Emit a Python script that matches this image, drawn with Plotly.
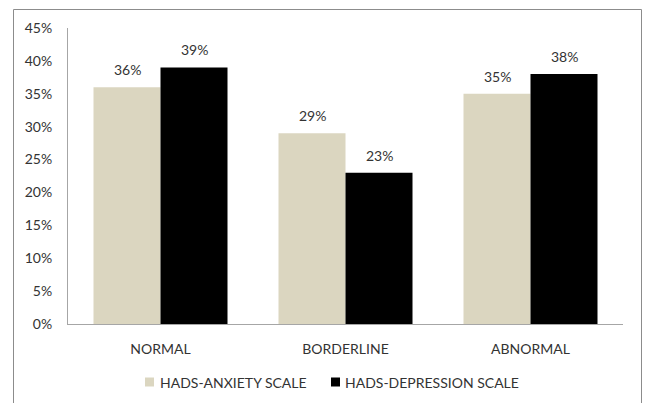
import plotly.graph_objects as go

categories = ["NORMAL", "BORDERLINE", "ABNORMAL"]
anxiety = [36, 29, 35]
depression = [39, 23, 38]
series_names = ["HADS-ANXIETY SCALE", "HADS-DEPRESSION SCALE"]
series_colors = ["#dbd6c0", "#000000"]
y_ticks = [0, 5, 10, 15, 20, 25, 30, 35, 40, 45]

FONT = "Lato"
FONT_SIZE = 14
TEXT_COLOR = "#333333"
AXIS_COLOR = "#a6a6a6"

W, H = 646, 403
L, R, T, B = 68, 23, 28, 79
pw, ph = W - L - R, H - T - B
BAR_PX = 67  # width of one bar in pixels (bars in a group touch)


def px_x(x):
    return (x - L) / pw


def px_y(y):
    return (H - B - y) / ph


fig = go.Figure()
annotations = []
for i, (name, vals, color) in enumerate(zip(series_names, [anxiety, depression], series_colors)):
    fig.add_trace(go.Bar(
        x=categories,
        y=vals,
        name=name,
        marker=dict(color=color, line=dict(width=0)),
        showlegend=False,
    ))
    shift = (-0.5 if i == 0 else 0.5) * BAR_PX
    for cat, v in zip(categories, vals):
        annotations.append(dict(
            x=cat, y=v, xref="x", yref="y",
            text=f"{v}%", showarrow=False,
            xshift=shift, yshift=7, yanchor="bottom",
            font=dict(family=FONT, size=FONT_SIZE, color=TEXT_COLOR),
        ))

# legend drawn as swatches plus labels below the axis
shapes = []
legend_items = [(145, 158), (331, 343)]
for (sx, tx), name, color in zip(legend_items, series_names, series_colors):
    shapes.append(dict(
        type="rect", xref="paper", yref="paper",
        x0=px_x(sx), x1=px_x(sx + 9), y0=px_y(386.5), y1=px_y(377.5),
        line=dict(width=0), fillcolor=color,
    ))
    annotations.append(dict(
        x=px_x(tx), y=px_y(382), xref="paper", yref="paper",
        text=name, showarrow=False, xanchor="left", yanchor="middle",
        font=dict(family=FONT, size=FONT_SIZE, color=TEXT_COLOR),
    ))

# outer chart frame
shapes.append(dict(
    type="rect", xref="paper", yref="paper",
    x0=px_x(13.5), x1=px_x(641.5), y0=px_y(410), y1=px_y(9.5),
    line=dict(color="#8c8c8c", width=1),
    fillcolor="rgba(0,0,0,0)", layer="below",
))

fig.update_layout(
    width=W,
    height=H,
    margin=dict(l=L, r=R, t=T, b=B),
    paper_bgcolor="white",
    plot_bgcolor="white",
    barmode="group",
    bargap=1 - 2 * BAR_PX / (pw / 3),
    bargroupgap=0,
    font=dict(family=FONT, size=FONT_SIZE, color=TEXT_COLOR),
    showlegend=False,
    annotations=annotations,
    shapes=shapes,
    xaxis=dict(
        showline=True,
        linecolor=AXIS_COLOR,
        linewidth=1,
        ticks="",
        showgrid=False,
        ticklabelstandoff=12,
        tickfont=dict(family=FONT, size=FONT_SIZE, color=TEXT_COLOR),
        fixedrange=True,
    ),
    yaxis=dict(
        range=[0, 45],
        tickvals=y_ticks,
        ticktext=[f"{v}%" for v in y_ticks],
        showline=True,
        linecolor=AXIS_COLOR,
        linewidth=1,
        showgrid=False,
        zeroline=False,
        ticks="",
        ticklabelstandoff=12,
        tickfont=dict(family=FONT, size=FONT_SIZE, color=TEXT_COLOR),
        fixedrange=True,
    ),
)

fig.write_html("out.html")
